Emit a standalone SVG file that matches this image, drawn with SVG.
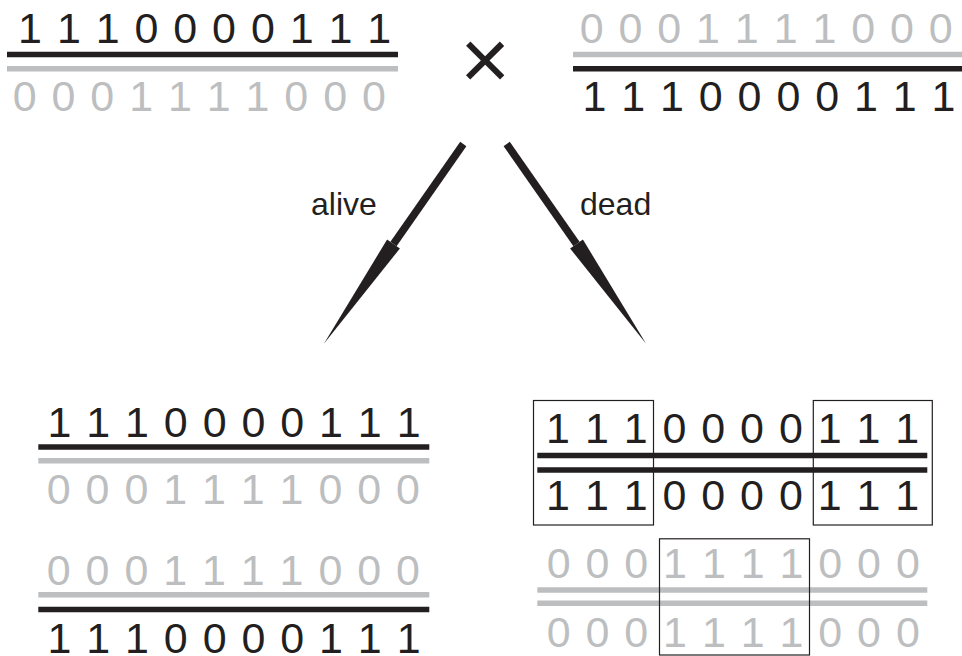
<svg xmlns="http://www.w3.org/2000/svg" width="962" height="656" viewBox="0 0 962 656">
<style>
.d{font-family:"Liberation Sans",Arial,sans-serif;font-size:43px;letter-spacing:1.47px}
.k{fill:#231f20}
.g{fill:#bcbec0}
.bl{stroke:#231f20;stroke-width:5.5}
.gl{stroke:#bcbec0;stroke-width:5.5}
.box{fill:none;stroke:#231f20;stroke-width:1.2}
.lbl{font-family:"Liberation Sans",Arial,sans-serif;font-size:32px;fill:#231f20}
.shaft{stroke:#231f20;stroke-width:7.5;fill:none;marker-end:url(#head)}
</style>
<defs>
<marker id="head" markerUnits="userSpaceOnUse" orient="auto" viewBox="0 -10 130 20" refX="0" refY="0" markerWidth="130" markerHeight="20" overflow="visible">
<path d="M0,-7.8 L121.6,0 L0,7.8 Z" fill="#231f20"/>
</marker>
</defs>
<rect width="962" height="656" fill="#ffffff"/>

<g id="parent-left">
<text class="d k" x="18.1" y="43">1 1 1 0 0 0 0 1 1 1</text>
<line class="bl" x1="7" y1="54.5" x2="398" y2="54.5"/>
<line class="gl" x1="7" y1="68.8" x2="398" y2="68.8"/>
<text class="d g" x="12.75" y="111">0 0 0 1 1 1 1 0 0 0</text>
</g>

<g id="cross">
<text x="485" y="89" text-anchor="middle" font-family="Liberation Sans, Arial, sans-serif" font-size="86" fill="#231f20">×</text>
</g>

<g id="parent-right">
<text class="d g" x="579.65" y="43">0 0 0 1 1 1 1 0 0 0</text>
<line class="gl" x1="573" y1="54.5" x2="962" y2="54.5"/>
<line class="bl" x1="573" y1="68.8" x2="962" y2="68.8"/>
<text class="d k" x="582.4" y="111">1 1 1 0 0 0 0 1 1 1</text>
</g>

<g id="connectors">
<path class="shaft" d="M463.3,144 L393.5,244"/>
<path class="shaft" d="M506.7,144 L576.5,244"/>
<text class="lbl" x="311" y="215">alive</text>
<text class="lbl" x="580" y="215">dead</text>
</g>

<g id="offspring-alive">
<text class="d k" x="47.45" y="437">1 1 1 0 0 0 0 1 1 1</text>
<line class="bl" x1="38.3" y1="447" x2="429.3" y2="447"/>
<line class="gl" x1="38.3" y1="460.8" x2="429.3" y2="460.8"/>
<text class="d g" x="46.8" y="504">0 0 0 1 1 1 1 0 0 0</text>
<text class="d g" x="46.8" y="584.5">0 0 0 1 1 1 1 0 0 0</text>
<line class="gl" x1="38.3" y1="594.8" x2="429.3" y2="594.8"/>
<line class="bl" x1="38.3" y1="609.5" x2="429.3" y2="609.5"/>
<text class="d k" x="47.45" y="653">1 1 1 0 0 0 0 1 1 1</text>
</g>

<g id="offspring-dead">
<text class="d k" x="546.1" y="443">1 1 1 0 0 0 0 1 1 1</text>
<line class="bl" x1="537.3" y1="455.5" x2="927.3" y2="455.5"/>
<line class="bl" x1="537.3" y1="470" x2="927.3" y2="470"/>
<text class="d k" x="546.1" y="510">1 1 1 0 0 0 0 1 1 1</text>
<text class="d g" x="546.7" y="578">0 0 0 1 1 1 1 0 0 0</text>
<line class="gl" x1="537.3" y1="590" x2="927.3" y2="590"/>
<line class="gl" x1="537.3" y1="603.2" x2="927.3" y2="603.2"/>
<text class="d g" x="546.7" y="646.5">0 0 0 1 1 1 1 0 0 0</text>
<rect class="box" x="533.5" y="400.5" width="120" height="124.5"/>
<rect class="box" x="813.3" y="400.5" width="119" height="124.5"/>
<rect class="box" x="659.5" y="538.8" width="150" height="116.2"/>
</g>
</svg>
